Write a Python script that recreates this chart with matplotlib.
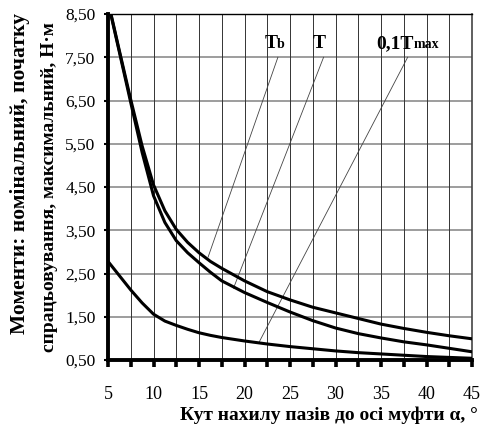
import numpy as np
import matplotlib.pyplot as plt

plt.rcParams['font.family'] = ['Liberation Serif', 'DejaVu Serif']

# angle of slots, degrees
alpha = [5, 6.25, 7.5, 8.75, 10, 11.25, 12.5, 13.75, 15, 16.25, 17.5, 20,
         22.5, 25, 27.5, 30, 32.5, 35, 37.5, 40, 42.5, 45]

# moments, N*m
Tb = [8.80, 7.65, 6.52, 5.45, 4.55, 3.95, 3.52, 3.22, 2.98, 2.78, 2.62, 2.33,
      2.08, 1.89, 1.72, 1.59, 1.46, 1.33, 1.23, 1.14, 1.06, 0.99]
T = [8.78, 7.62, 6.45, 5.30, 4.30, 3.68, 3.26, 2.98, 2.75, 2.53, 2.33, 2.06,
     1.83, 1.61, 1.41, 1.24, 1.11, 1.01, 0.92, 0.85, 0.77, 0.69]
Tmax01 = [2.78, 2.45, 2.12, 1.82, 1.56, 1.40, 1.30, 1.21, 1.13, 1.07, 1.02, 0.94,
          0.87, 0.81, 0.76, 0.71, 0.67, 0.64, 0.61, 0.58, 0.56, 0.54]

# curve labels: main part, small part, label pos, leader start, leader end
lab_main = ['T', 'T', '0,1T']
lab_small = ['b', '', 'max']
lab_xy = [(23.6, 7.72), (28.9, 7.72), (38.6, 7.72)]
lead_from = [(23.67, 7.5), (28.69, 7.5), (37.93, 7.5)]
lead_to = [(16.0, 2.88), (18.79, 2.16), (21.54, 0.886)]

xmajor = np.arange(5, 45.1, 5)
xminor = np.arange(7.5, 45, 5)
yticks = np.arange(0.5, 8.51, 1.0)

fig = plt.figure(figsize=(4.81, 4.28), dpi=100)
ax = fig.add_axes([108/481, 1 - 360/428, 364/481, 346/428])

for yv in yticks[1:-1]:
    ax.axhline(yv, color='#8c8c8c', lw=1.2, zorder=1)
for xv in np.arange(7.5, 45, 2.5):
    ax.axvline(xv, color='#333333', lw=0.7, zorder=1)

for ys in (Tb, T, Tmax01):
    ax.plot(alpha, ys, color='black', lw=2.2, zorder=3)

for (x0, y0), (x1, y1) in zip(lead_from, lead_to):
    ax.plot([x0, x1], [y0, y1], color='#444444', lw=0.6, zorder=2)

for m, s, (lx, ly) in zip(lab_main, lab_small, lab_xy):
    ax.text(lx, ly, m, ha='right', va='baseline', fontsize=14,
            fontweight='bold', zorder=4)
    if s:
        ax.text(lx, ly, s, ha='left', va='baseline', fontsize=10,
                fontweight='bold', zorder=4)

ax.set_xlim(5, 45)
ax.set_ylim(0.5, 8.5)
ax.set_xticks(xmajor)
ax.set_xticks(xminor, minor=True)
ax.set_xticklabels([f'{v:g}' for v in xmajor], fontsize=13)
ax.set_yticks(yticks)
ax.set_yticklabels([f'{v:.2f}'.replace('.', ',') for v in yticks],
                   fontsize=12.5)
ax.tick_params(axis='x', which='both', direction='out', length=5, width=2.6,
               pad=14)
ax.tick_params(axis='y', direction='out', length=3, width=1.5, pad=6)

ax.spines['left'].set_linewidth(2.8)
ax.spines['bottom'].set_linewidth(2.8)
ax.spines['top'].set_linewidth(1.0)
ax.spines['right'].set_linewidth(1.2)
ax.spines['right'].set_color('#444444')

fig.text(20/481, 1 - 173/428, 'Моменти: номінальний, початку', rotation=90,
         ha='center', va='center', fontsize=15.5, fontweight='bold')
fig.text(50/481, 1 - 187/428, 'спрацьовування, максимальний, Н·м', rotation=90,
         ha='center', va='center', fontsize=14, fontweight='bold')
fig.text(478/481, 1 - 415/428, 'Кут нахилу пазів до осі муфти α, °',
         ha='right', va='center', fontsize=14, fontweight='bold')

plt.savefig('out.png', dpi=100)
